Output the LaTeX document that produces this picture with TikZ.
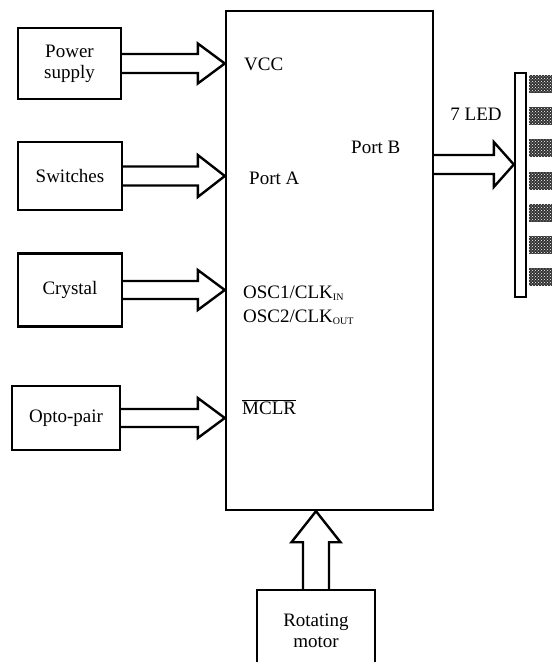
\documentclass[tikz,border=0pt]{standalone}
\usepackage{fontspec}
\setmainfont{Liberation Serif}
\usepackage{tikz}
\usetikzlibrary{calc,patterns}

% hollow block arrows: from, to, shaft half width, head half width, head length
\newcommand{\hfat}[5]{%
  \draw[fat] let \p1=(#1), \p2=(#2) in
    (\x1,\y1+#3) -- (\x2-#5,\y1+#3) -- (\x2-#5,\y1+#4) -- (\x2,\y1)
    -- (\x2-#5,\y1-#4) -- (\x2-#5,\y1-#3) -- (\x1,\y1-#3);}
\newcommand{\vfat}[5]{%
  \draw[fat] let \p1=(#1), \p2=(#2) in
    (\x1+#3,\y1) -- (\x1+#3,\y2-#5) -- (\x1+#4,\y2-#5) -- (\x1,\y2)
    -- (\x1-#4,\y2-#5) -- (\x1-#3,\y2-#5) -- (\x1-#3,\y1);}
\newcommand{\sub}[1]{\textsubscript{\fontsize{10}{10}\selectfont #1}}

\begin{document}
\begin{tikzpicture}[x=1pt,y=-1pt,
  font=\fontsize{19}{21}\selectfont,
  blk/.style={draw,line width=2.4pt,align=center,inner sep=0pt},
  fat/.style={line width=2.4pt,line join=miter},
  pin/.style={inner sep=0pt},
  ledicon/.style={fill=black!80,minimum width=23pt,minimum height=18pt,inner sep=0pt,
                  postaction={pattern=crosshatch dots,pattern color=white}}]
  \useasboundingbox (0,0) rectangle (552,662);
  \clip (0,0) rectangle (552,662);

  % controller
  \node[blk,minimum width=207pt,minimum height=499pt] (mcu) at (329.5,260.5) {};
  \node[pin,anchor=base west] (vcc) at (244,70) {VCC};
  \node[pin,anchor=base west] (porta) at (249,184) {Port A};
  \node[pin,anchor=base west] (portb) at (351,153) {Port B};
  \node[pin,anchor=base west] (osca) at (243,298) {OSC1/CLK\sub{IN}};
  \node[pin,anchor=base west] (oscb) at (243,322) {OSC2/CLK\sub{OUT}};
  \node[pin,anchor=base west] (mclr) at (242,414) {$\overline{\mbox{MCLR}}$};

  % inputs
  \node[blk,minimum width=103pt,minimum height=71pt] (ps) at (69.5,63.5) {Power\\supply};
  \node[blk,minimum width=104pt,minimum height=68pt] (sw) at (70,176) {Switches};
  \node[blk,minimum width=104pt,minimum height=73pt] (xtal) at (70,290) {Crystal};
  \node[blk,minimum width=108pt,minimum height=64pt] (opto) at (66,418) {Opto-pair};
  \node[blk,minimum width=118pt,minimum height=82pt] (motor) at (316,631) {Rotating\\motor};

  \hfat{ps.east}{mcu.west |- ps.east}{9.5pt}{20pt}{27pt}
  \hfat{sw.east}{mcu.west |- sw.east}{9.5pt}{21pt}{27pt}
  \hfat{xtal.east}{mcu.west |- xtal.east}{9pt}{20pt}{27pt}
  \hfat{opto.east}{mcu.west |- opto.east}{9pt}{20pt}{27pt}
  \vfat{motor.north}{motor.north |- mcu.south}{13pt}{24.5pt}{31pt}

  % LED bar
  \node[blk,minimum width=11pt,minimum height=224pt] (ledbar) at (520.5,185) {};
  \coordinate (ledout) at (433,164.5);
  \hfat{ledout}{ledbar.west |- ledout}{9.5pt}{22.5pt}{20pt}
  \node[pin] (ledtxt) at (476,114) {7 LED};
  \foreach \i in {0,...,6}
    \node[ledicon] (led\i) at (540.5,84+32.2*\i) {};
\end{tikzpicture}
\end{document}
